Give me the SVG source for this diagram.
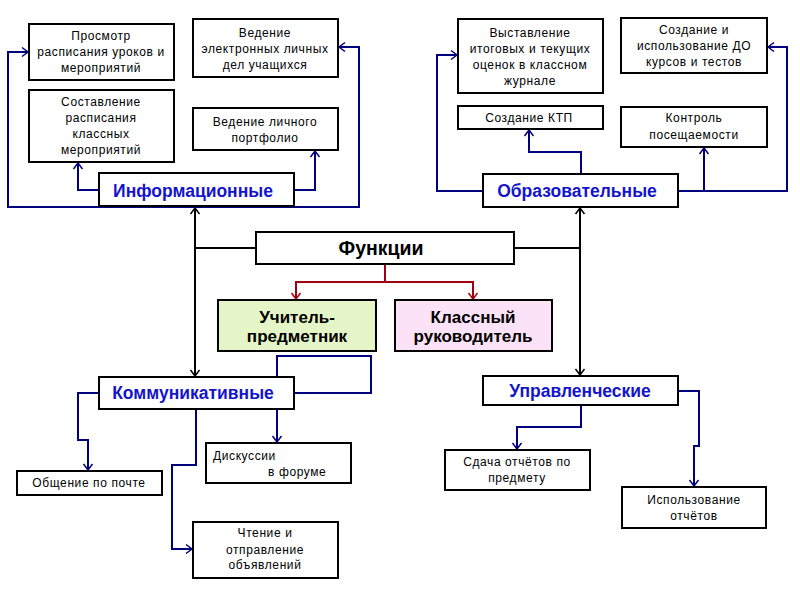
<svg xmlns="http://www.w3.org/2000/svg" width="800" height="600" viewBox="0 0 800 600">
<style>
.box{fill:#fff;stroke:#000;stroke-width:2}
.t{font-family:"Liberation Sans",Arial,sans-serif;font-size:12px;letter-spacing:0.6px;fill:#000;text-anchor:middle}
.h{font-family:"Liberation Sans",Arial,sans-serif;font-size:17.5px;font-weight:bold;fill:#1414cc;text-anchor:middle}
.b{font-family:"Liberation Sans",Arial,sans-serif;font-size:17px;font-weight:bold;fill:#000;text-anchor:middle}
.n{fill:none;stroke:#00007f;stroke-width:2}
.k{fill:none;stroke:#000;stroke-width:2}
.r{fill:none;stroke:#a00010;stroke-width:2}
.n{marker-end:url(#an)}
</style>
<defs>
<marker id="an" markerWidth="12" markerHeight="12" refX="9" refY="6" orient="auto" markerUnits="userSpaceOnUse"><path d="M3,1.5 L9,6 L3,10.5" fill="none" stroke="#00007f" stroke-width="1.5"/></marker>
<marker id="ak" markerWidth="12" markerHeight="12" refX="9" refY="6" orient="auto" markerUnits="userSpaceOnUse"><path d="M3,1.5 L9,6 L3,10.5" fill="none" stroke="#000" stroke-width="1.5"/></marker>
<marker id="ar" markerWidth="12" markerHeight="12" refX="9" refY="6" orient="auto" markerUnits="userSpaceOnUse"><path d="M3,1.5 L9,6 L3,10.5" fill="none" stroke="#a00010" stroke-width="1.5"/></marker>
</defs>
<rect width="800" height="600" fill="#fff"/>
<g id="connectors">
<path class="n" d="M195,207 H8 V52 H28"/>
<path class="n" d="M195,207 H359 V47 H339"/>
<path class="n" d="M99,190 H78 V163"/>
<path class="n" d="M294,190 H315 V151"/>
<path class="n" d="M483,191 H437 V55 H457"/>
<path class="n" d="M581,174 V152 H529 V130"/>
<path class="n" d="M678,191 H787 V47 H768"/>
<path class="n" d="M704,191 V148"/>
<path class="k" d="M256,248 H195"/>
<path class="k" d="M195,248 V208" marker-end="url(#ak)"/>
<path class="k" d="M195,248 V376" marker-end="url(#ak)"/>
<path class="k" d="M514,248 H580"/>
<path class="k" d="M580,248 V208" marker-end="url(#ak)"/>
<path class="k" d="M580,248 V375" marker-end="url(#ak)"/>
<path class="r" d="M385,264 V282 H296 V299" marker-end="url(#ar)"/>
<path class="r" d="M385,282 H473 V299" marker-end="url(#ar)"/>
<path class="n" d="M294,393 H371 V356 H277 V442"/>
<path class="n" d="M99,393 H78 V440 H88 V470"/>
<path class="n" d="M196,409 V465 H172 V549 H192"/>
<path class="n" d="M581,405 V427 H517 V449"/>
<path class="n" d="M678,391 H699 V446 H694 V486"/>
</g>
<g id="n-prosmotr"><rect class="box" x="29" y="24" width="145" height="56"/>
<text class="t" x="101" y="40">Просмотр</text><text class="t" x="101" y="56">расписания уроков и</text><text class="t" x="101" y="72">мероприятий</text></g>
<g id="n-vedenie-del"><rect class="box" x="193" y="19" width="145" height="58"/>
<text class="t" x="265" y="37">Ведение</text><text class="t" x="265" y="53">электронных личных</text><text class="t" x="265" y="69">дел учащихся</text></g>
<g id="n-sostavlenie"><rect class="box" x="29" y="90" width="145" height="72"/>
<text class="t" x="101" y="106">Составление</text><text class="t" x="101" y="122">расписания</text><text class="t" x="101" y="138">классных</text><text class="t" x="101" y="154">мероприятий</text></g>
<g id="n-portfolio"><rect class="box" x="193" y="108" width="145" height="42"/>
<text class="t" x="265" y="126">Ведение личного</text><text class="t" x="265" y="142">портфолио</text></g>
<g id="n-info"><rect class="box" x="99" y="173" width="195" height="33"/>
<text class="h" x="193" y="197">Информационные</text></g>
<g id="n-vystavlenie"><rect class="box" x="458" y="19" width="145" height="74"/>
<text class="t" x="530" y="37">Выставление</text><text class="t" x="530" y="53">итоговых и текущих</text><text class="t" x="530" y="69">оценок в классном</text><text class="t" x="530" y="85">журнале</text></g>
<g id="n-do"><rect class="box" x="621" y="18" width="146" height="55"/>
<text class="t" x="694" y="34">Создание и</text><text class="t" x="694" y="50">использование ДО</text><text class="t" x="694" y="66">курсов и тестов</text></g>
<g id="n-ktp"><rect class="box" x="458" y="106" width="145" height="23"/>
<text class="t" x="529" y="122">Создание КТП</text></g>
<g id="n-kontrol"><rect class="box" x="621" y="107" width="146" height="40"/>
<text class="t" x="694" y="122">Контроль</text><text class="t" x="694" y="139">посещаемости</text></g>
<g id="n-obraz"><rect class="box" x="483" y="174" width="195" height="33"/>
<text class="h" x="577" y="197">Образовательные</text></g>
<g id="n-funkcii"><rect class="box" x="256" y="232" width="258" height="32"/>
<text class="b" x="381" y="255" style="font-size:19.5px">Функции</text></g>
<g id="n-uchitel"><rect class="box" x="218" y="300" width="158" height="51" style="fill:#e4f6c8"/>
<text class="b" x="297" y="323">Учитель-</text><text class="b" x="297" y="342">предметник</text></g>
<g id="n-klass"><rect class="box" x="395" y="300" width="157" height="51" style="fill:#fbe2f6"/>
<text class="b" x="473" y="323">Классный</text><text class="b" x="473" y="342">руководитель</text></g>
<g id="n-komm"><rect class="box" x="99" y="377" width="195" height="32"/>
<text class="h" x="193" y="399">Коммуникативные</text></g>
<g id="n-uprav"><rect class="box" x="483" y="376" width="195" height="29"/>
<text class="h" x="580" y="397">Управленческие</text></g>
<g id="n-pochta"><rect class="box" x="17" y="471" width="145" height="24"/>
<text class="t" x="89" y="487">Общение по почте</text></g>
<g id="n-diskussii"><rect class="box" x="206" y="443" width="145" height="40"/>
<text class="t" x="213" y="460" style="text-anchor:start">Дискуссии</text><text class="t" x="268" y="476" style="text-anchor:start">в форуме</text></g>
<g id="n-chtenie"><rect class="box" x="193" y="522" width="145" height="56"/>
<text class="t" x="265" y="537">Чтение и</text><text class="t" x="265" y="554">отправление</text><text class="t" x="265" y="569">объявлений</text></g>
<g id="n-sdacha"><rect class="box" x="445" y="450" width="145" height="40"/>
<text class="t" x="517" y="466">Сдача отчётов по</text><text class="t" x="517" y="482">предмету</text></g>
<g id="n-ispolz"><rect class="box" x="622" y="487" width="144" height="41"/>
<text class="t" x="694" y="504">Использование</text><text class="t" x="694" y="520">отчётов</text></g>
</svg>
